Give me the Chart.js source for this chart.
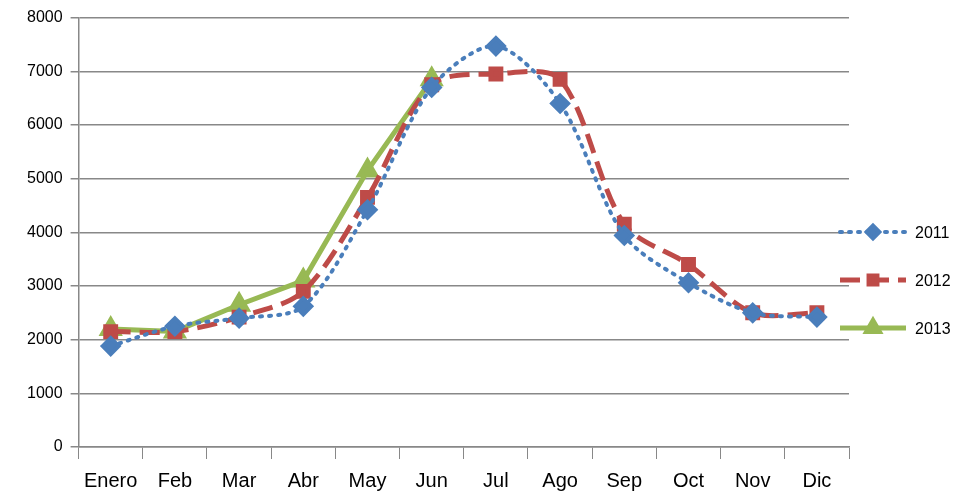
<!DOCTYPE html><html><head><meta charset="utf-8">
<script src="https://cdn.jsdelivr.net/npm/chart.js@4"></script>
<style>body{margin:0;background:#fff;overflow:hidden}#w{width:959px;height:503px}</style></head><body>
<div id="w"><canvas id="c"></canvas></div>
<script>
const categories=["Enero","Feb","Mar","Abr","May","Jun","Jul","Ago","Sep","Oct","Nov","Dic"];
const s2011=[1880,2250,2400,2620,4420,6700,7470,6400,3940,3060,2500,2420];
const s2012=[2150,2150,2420,2900,4650,6750,6950,6850,4150,3400,2500,2500];
const s2013=[2200,2150,2650,3100,5150,6850,null,null,null,null,null,null];
const yTicks=[0,1000,2000,3000,4000,5000,6000,7000,8000];
const legendPlugin={id:'lg',afterDraw(ch){const c=ch.ctx;const ys=[232,280,328];
ch.data.datasets.forEach((d,i)=>{const y=ys[i];c.save();c.strokeStyle=d.borderColor;c.lineWidth=d.borderWidth;c.setLineDash(d.borderDash||[]);c.lineCap=d.borderCapStyle||'butt';
c.beginPath();c.moveTo(840,y);c.lineTo(906,y);c.stroke();c.setLineDash([]);
c.fillStyle=d.backgroundColor;c.strokeStyle=d.borderColor;Chart.helpers.drawPoint(c,{pointStyle:d.pointStyle,radius:d.pointRadius*0.8,borderWidth:1},873,y);
c.fillStyle='#000';c.font='16px "Liberation Sans", Arial';c.textBaseline='middle';c.fillText(d.label,915,y+2);c.restore();});}};
new Chart(document.getElementById('c'),{type:'line',
data:{labels:categories,datasets:[
{label:'2011',data:s2011,borderColor:'#4a7ebb',backgroundColor:'#4a7ebb',borderWidth:4,borderDash:[2,7],borderCapStyle:'round',pointStyle:'rectRot',pointRadius:8,tension:0.3},
{label:'2012',data:s2012,borderColor:'#be4b48',backgroundColor:'#be4b48',borderWidth:5,borderDash:[20,9],pointStyle:'rect',pointRadius:7,tension:0.3},
{label:'2013',data:s2013,borderColor:'#98b954',backgroundColor:'#98b954',borderWidth:5,pointStyle:'triangle',pointRadius:9,tension:0}
]},
options:{responsive:true,maintainAspectRatio:false,animation:false,
layout:{padding:{left:19,right:110,top:12,bottom:0}},
plugins:{legend:{display:false},tooltip:{enabled:false}},
scales:{x:{offset:true,grid:{display:true,drawOnChartArea:false,offset:true,tickLength:12,color:'#888'},border:{color:'#888',width:1.5},
ticks:{color:'#000',font:{size:20,family:'"Liberation Sans", Arial'},padding:10}},
y:{min:0,max:8000,afterBuildTicks:a=>{a.ticks=yTicks.map(v=>({value:v}));},grid:{color:'#888',lineWidth:1.5,tickLength:8},border:{color:'#888',width:1.5},
ticks:{color:'#000',font:{size:16,family:'"Liberation Sans", Arial'},padding:8,callback:v=>String(v)}}}},
plugins:[legendPlugin]});
</script></body></html>
